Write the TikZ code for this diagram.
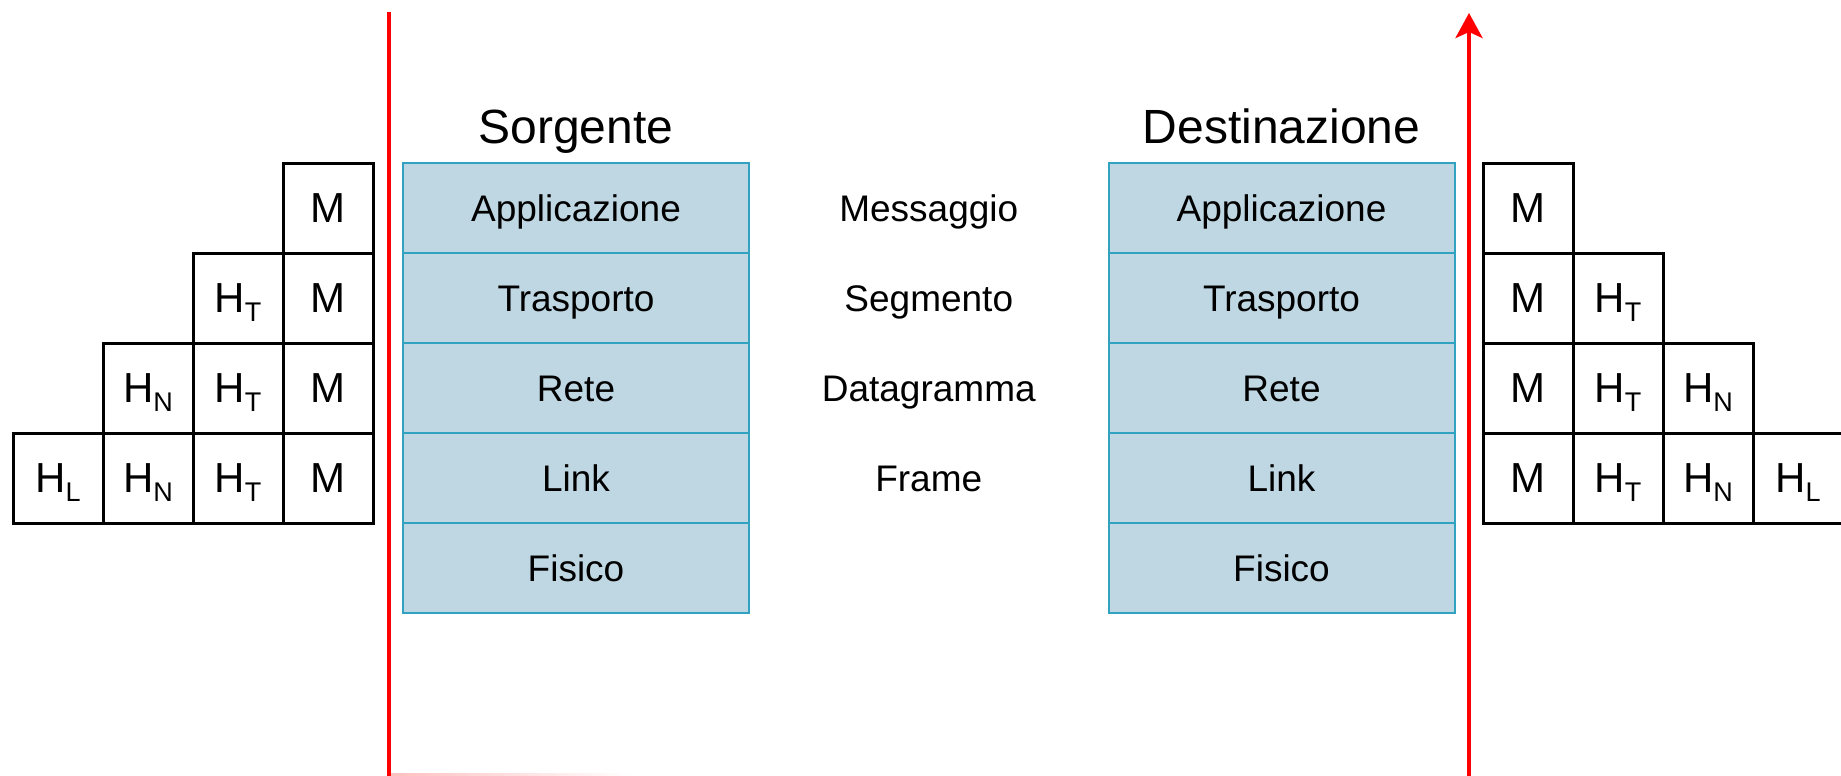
\documentclass[tikz,border=0pt]{standalone}
\usepackage{fontspec}
\setmainfont{Liberation Sans}
\usepackage{tikz}
\usetikzlibrary{arrows.meta,positioning,calc}
\definecolor{paleblue}{RGB}{191,215,227}
\definecolor{tealblue}{RGB}{49,163,192}
\newcommand{\hsub}[1]{H\raisebox{-4.5pt}[0pt][0pt]{\fontsize{13.5}{14}\selectfont #1}}

\begin{document}
\begin{tikzpicture}[x=0.5pt,y=-0.5pt,
 node distance=0pt,
 every node/.style={font=\fontsize{18.5}{22}\selectfont,outer sep=0pt},
 layer/.style={draw=tealblue,line width=1pt,fill=paleblue,minimum width=173pt,minimum height=45pt,text height=13pt,text depth=0pt},
 cell/.style={draw=black,line width=1.5pt,minimum size=45pt,font=\fontsize{21}{24}\selectfont,text depth=0pt},
 pdu/.style={text height=13pt,text depth=0pt},
 title/.style={font=\fontsize{24}{28}\selectfont,inner sep=0pt,text depth=5pt},
 wire/.style={red,line width=2pt}
]
\useasboundingbox (0,0) rectangle (1841,776);
\coordinate (srctop) at (389,12);
\coordinate (srcbot) at (389,776);
\coordinate (dstbot) at (1469,776);
\coordinate (dsttop) at (1469,13);
\shade[left color=red!25,right color=white] (srcbot) rectangle (631,773);
\draw[wire] (srctop)--(srcbot);
\draw[wire,-{Stealth[length=12.5pt,width=13.5pt,inset=3pt]}] (dstbot)--(dsttop);

\node[layer] (sapp) at (576,208) {Applicazione};
\node[layer,below=of sapp] (strs) {Trasporto};
\node[layer,below=of strs] (sret) {Rete};
\node[layer,below=of sret] (slnk) {Link};
\node[layer,below=of slnk] (sfis) {Fisico};
\node[title,above=5pt of sapp] (stitle) {Sorgente};

\node[layer] (dapp) at (1281.5,208) {Applicazione};
\node[layer,below=of dapp] (dtrs) {Trasporto};
\node[layer,below=of dtrs] (dret) {Rete};
\node[layer,below=of dret] (dlnk) {Link};
\node[layer,below=of dlnk] (dfis) {Fisico};
\node[title,above=5pt of dapp] (dtitle) {Destinazione};

\node[pdu] (msg) at ($(sapp)!0.5!(dapp)$) {Messaggio};
\node[pdu] (seg) at ($(strs)!0.5!(dtrs)$) {Segmento};
\node[pdu] (dgr) at ($(sret)!0.5!(dret)$) {Datagramma};
\node[pdu] (frm) at ($(slnk)!0.5!(dlnk)$) {Frame};

\node[cell] (lm1) at (328,208) {M};
\node[cell,below=of lm1] (lm2) {M};
\node[cell,below=of lm2] (lm3) {M};
\node[cell,below=of lm3] (lm4) {M};
\node[cell,left=of lm2] (lt2) {\hsub{T}};
\node[cell,left=of lm3] (lt3) {\hsub{T}};
\node[cell,left=of lm4] (lt4) {\hsub{T}};
\node[cell,left=of lt3] (ln3) {\hsub{N}};
\node[cell,left=of lt4] (ln4) {\hsub{N}};
\node[cell,left=of ln4] (ll4) {\hsub{L}};

\node[cell] (rm1) at (1528,208) {M};
\node[cell,below=of rm1] (rm2) {M};
\node[cell,below=of rm2] (rm3) {M};
\node[cell,below=of rm3] (rm4) {M};
\node[cell,right=of rm2] (rt2) {\hsub{T}};
\node[cell,right=of rm3] (rt3) {\hsub{T}};
\node[cell,right=of rm4] (rt4) {\hsub{T}};
\node[cell,right=of rt3] (rn3) {\hsub{N}};
\node[cell,right=of rt4] (rn4) {\hsub{N}};
\node[cell,right=of rn4] (rl4) {\hsub{L}};
\end{tikzpicture}
\end{document}
